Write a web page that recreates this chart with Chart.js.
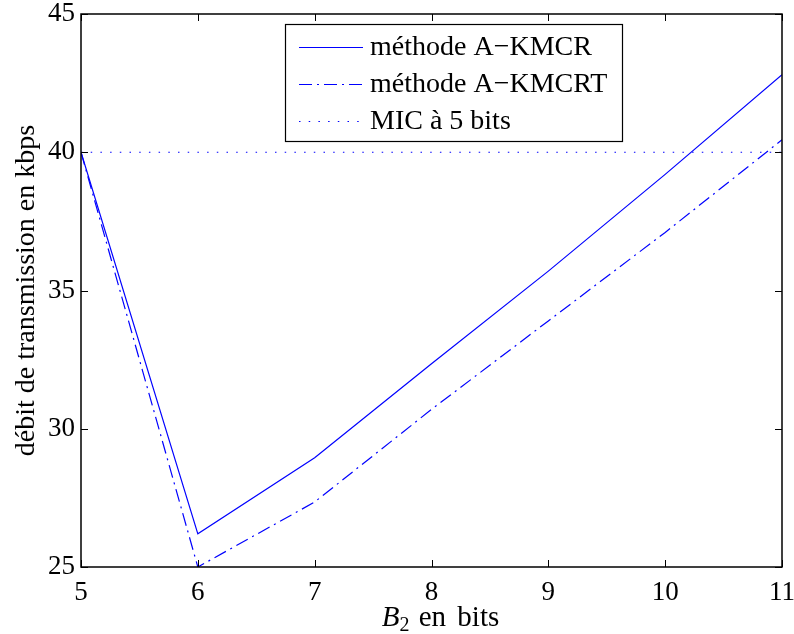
<!DOCTYPE html>
<html>
<head>
<meta charset="utf-8">
<script src="https://cdn.jsdelivr.net/npm/chart.js@4/dist/chart.umd.min.js"></script>
<style>
	html, body { margin: 0; padding: 0; background: #fff; }
	#wrap { width: 794px; height: 634px; }
</style>
</head>
<body>
<div id="wrap"><canvas id="plot" width="794" height="634"></canvas></div>
<script>
// values
const bits = [5, 6, 7, 8, 9, 10, 11];
const kmcr = [40, 26.2, 28.95, 32.35, 35.7, 39.2, 42.8];
const kmcrt = [40, 25.0, 27.35, 30.7, 33.9, 37.1, 40.45];
const micLevel = [40, 40, 40, 40, 40, 40, 40];
const seriesNames = ['méthode A\u2212KMCR', 'méthode A\u2212KMCRT', 'MIC à 5 bits'];
const xTicks = [5, 6, 7, 8, 9, 10, 11];
const yTicks = [25, 30, 35, 40, 45];

const SERIF = "'Liberation Serif', 'Times New Roman', serif";
const BLUE = '#0000ff';

const toPoints = (vals) => bits.map((b, i) => ({ x: b, y: vals[i] }));

// box, inward ticks on all four sides (matlab look)
const frame = {
	id: 'frame',
	afterDatasetsDraw(chart) {
		const { ctx, chartArea: a, scales } = chart;
		const len = 7;
		ctx.save();
		ctx.strokeStyle = '#000';
		ctx.lineWidth = 1;
		ctx.beginPath();
		xTicks.forEach(v => {
			const px = Math.round(scales.x.getPixelForValue(v)) + 0.5;
			ctx.moveTo(px, a.bottom); ctx.lineTo(px, a.bottom - len);
			ctx.moveTo(px, a.top); ctx.lineTo(px, a.top + len);
		});
		yTicks.forEach(v => {
			const py = Math.round(scales.y.getPixelForValue(v)) + 0.5;
			ctx.moveTo(a.left, py); ctx.lineTo(a.left + len, py);
			ctx.moveTo(a.right, py); ctx.lineTo(a.right - len, py);
		});
		ctx.stroke();
		ctx.lineWidth = 1.5;
		ctx.strokeRect(a.left, a.top, a.right - a.left, a.bottom - a.top);

		// x axis title: italic B with subscript 2
		const cx = (a.left + a.right) / 2 + 9;
		const by = 626;
		ctx.fillStyle = '#000';
		ctx.textBaseline = 'alphabetic';
		ctx.font = 'italic 29px ' + SERIF;
		const wB = ctx.measureText('B').width;
		ctx.font = '20px ' + SERIF;
		const w2 = ctx.measureText('2').width;
		ctx.font = '29px ' + SERIF;
		const rest = ' en bits';
		const wR = ctx.measureText(rest).width + 6;
		let x0 = cx - (wB + w2 + wR) / 2;
		ctx.font = 'italic 29px ' + SERIF;
		ctx.fillText('B', x0, by);
		ctx.font = '20px ' + SERIF;
		ctx.fillText('2', x0 + wB, by + 5);
		ctx.font = '29px ' + SERIF;
		ctx.fillText(' en', x0 + wB + w2 + 2, by);
		ctx.fillText('bits', x0 + wB + w2 + ctx.measureText(' en ').width + 6, by);
		ctx.restore();
	}
};

// legend box inside the plot, top middle
const boxLegend = {
	id: 'boxLegend',
	afterDraw(chart) {
		const { ctx } = chart;
		const left = 285, top = 24, right = 622, bottom = 141;
		ctx.save();
		ctx.fillStyle = '#fff';
		ctx.fillRect(left, top, right - left, bottom - top);
		ctx.strokeStyle = '#000';
		ctx.lineWidth = 1.2;
		ctx.strokeRect(left + 0.5, top + 0.5, right - left, bottom - top);
		const rows = [47, 84, 121];
		chart.data.datasets.forEach((ds, i) => {
			ctx.strokeStyle = ds.borderColor;
			ctx.lineWidth = ds.borderWidth;
			ctx.setLineDash(ds.borderDash || []);
			ctx.beginPath();
			ctx.moveTo(299, rows[i] + 0.5);
			ctx.lineTo(363, rows[i] + 0.5);
			ctx.stroke();
			ctx.setLineDash([]);
			ctx.fillStyle = '#000';
			ctx.font = '28px ' + SERIF;
			ctx.textBaseline = 'middle';
			ctx.fillText(ds.label, 370, rows[i] + 1);
		});
		ctx.restore();
	}
};

new Chart(document.getElementById('plot'), {
	type: 'line',
	data: {
		datasets: [
			{ label: seriesNames[0], data: toPoints(kmcr), borderColor: BLUE, borderWidth: 1.2, pointRadius: 0, tension: 0 },
			{ label: seriesNames[1], data: toPoints(kmcrt), borderColor: BLUE, borderWidth: 1.2, borderDash: [13, 5, 2, 5], pointRadius: 0, tension: 0 },
			{ label: seriesNames[2], data: toPoints(micLevel), borderColor: BLUE, borderWidth: 1.2, borderDash: [1.5, 8.2], pointRadius: 0, tension: 0 }
		]
	},
	options: {
		responsive: false,
		animation: false,
		layout: { padding: { top: 14, right: 12, left: 0, bottom: 0 } },
		plugins: {
			legend: { display: false },
			tooltip: { enabled: false }
		},
		scales: {
			x: {
				type: 'linear',
				min: 5,
				max: 11,
				afterBuildTicks: (s) => { s.ticks = xTicks.map(v => ({ value: v })); },
				afterFit: (s) => { s.height = 67; s.paddingLeft = 0; s.paddingRight = 0; },
				grid: { display: false, drawTicks: false },
				border: { display: false },
				ticks: { color: '#000', padding: 10, font: { family: SERIF, size: 27 } }
			},
			y: {
				type: 'linear',
				min: 25,
				max: 45,
				afterBuildTicks: (s) => { s.ticks = yTicks.map(v => ({ value: v })); },
				afterFit: (s) => { s.width = 81; s.paddingTop = 0; s.paddingBottom = 0; },
				grid: { display: false, drawTicks: false },
				border: { display: false },
				ticks: { color: '#000', padding: 6, font: { family: SERIF, size: 27 } },
				title: {
					display: true,
					text: 'débit de transmission en kbps',
					color: '#000',
					font: { family: SERIF, size: 28 },
					padding: { top: 10, bottom: 0 }
				}
			}
		}
	},
	plugins: [frame, boxLegend]
});
</script>
</body>
</html>
